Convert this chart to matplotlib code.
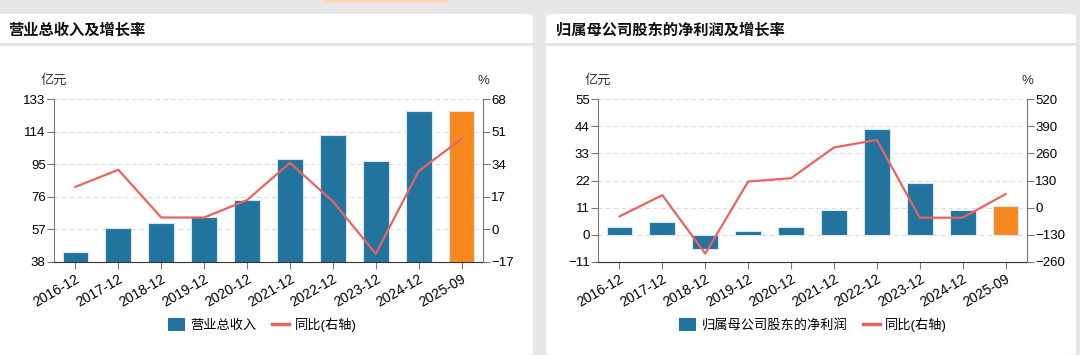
import numpy as np
import matplotlib.pyplot as plt
from matplotlib.patches import FancyBboxPatch, Rectangle
from matplotlib.lines import Line2D

plt.rcParams['font.family'] = ['Liberation Sans', 'Noto Sans CJK SC', 'DejaVu Sans']

# 数据
periodos = ['2016-12', '2017-12', '2018-12', '2019-12', '2020-12',
            '2021-12', '2022-12', '2023-12', '2024-12', '2025-09']
ingresos = [43.8, 57.6, 60.9, 64.4, 74.1, 98.3, 111.9, 97.1, 126.2, 126.2]
crec_ingresos = [22.2, 31.1, 6.2, 6.2, 15.3, 34.7, 14.6, -12.7, 30.4, 47.2]
beneficio = [3.2, 5.0, -5.8, 1.35, 3.1, 10.2, 42.7, 21.0, 10.2, 11.7]
crec_beneficio = [-42, 60, -220, 125, 141, 288, 324, -48, -48, 65]

ticks_ing = [38, 57, 76, 95, 114, 133]
ticks_ing_pct = [-17, 0, 17, 34, 51, 68]
ticks_ben = [-11, 0, 11, 22, 33, 44, 55]
ticks_ben_pct = [-260, -130, 0, 130, 260, 390, 520]

AZUL = '#22739e'
NARANJA = '#f5891f'
ROJO = '#e8645f'
GRIS = '#777777'

W, H = 1080, 355
fig = plt.figure(figsize=(W / 100, H / 100), dpi=100)
fig.patch.set_facecolor('#e7e7e9')


def px(x, y, w, h):
    # pixeles (origen arriba a la izquierda) -> fraccion de figura
    return [x / W, 1 - (y + h) / H, w / W, h / H]


def panel(x0, x1, titulo, x_tit):
    fig.patches.append(FancyBboxPatch((x0 / W, 0), (x1 - x0) / W, (H - 14) / H,
                                      boxstyle='round,pad=0,rounding_size=0.008',
                                      transform=fig.transFigure, facecolor='white',
                                      edgecolor='none', zorder=-5))
    fig.lines.append(Line2D([x0 / W, x1 / W], [1 - 44 / H] * 2, transform=fig.transFigure,
                            color='#e2e2e2', lw=2, zorder=-4))
    fig.text(x_tit / W, 1 - 30 / H, titulo, fontsize=11, fontweight='bold',
             va='center', ha='left', color='#111111')


def grafico(x_izq, valores, crec, ticks_l, ticks_r, etiqueta, titulo, px0, px1, x_tit, leg_x):
    panel(px0, px1, titulo, x_tit)
    ax = fig.add_axes(px(x_izq, 99, 429, 163))
    ax.set_facecolor('none')
    x = np.arange(len(periodos))
    colores = [AZUL] * (len(periodos) - 1) + [NARANJA]
    ax.bar(x, valores, width=0.6, color=colores, edgecolor='#d5e6f0', linewidth=0.8,
           zorder=3, label=etiqueta)
    ax.set_xlim(-0.5, len(periodos) - 0.5)
    ax.set_ylim(ticks_l[0], ticks_l[-1])
    ax.set_yticks(ticks_l)
    ax.grid(axis='y', color='#dcdcdc', linestyle=(0, (4, 3)), linewidth=0.8, zorder=0)
    ax.set_xticks(x)
    ax.set_xticklabels(periodos, rotation=30, ha='right', rotation_mode='anchor',
                       fontsize=10)
    ax.tick_params(axis='x', length=5, color=GRIS, pad=2)
    ax.tick_params(axis='y', length=5, color=GRIS, labelsize=9.5, pad=1)
    for s in ['top', 'right']:
        ax.spines[s].set_visible(False)
    ax.spines['left'].set_color(GRIS)
    ax.spines['bottom'].set_color('#333333')

    ax2 = ax.twinx()
    ax2.plot(x, crec, color=ROJO, lw=1.6, zorder=4, label='同比(右轴)')
    ax2.set_ylim(ticks_r[0], ticks_r[-1])
    ax2.set_yticks(ticks_r)
    ax2.tick_params(axis='y', length=5, color=GRIS, labelsize=9.5, pad=1)
    for s in ['top', 'left', 'bottom']:
        ax2.spines[s].set_visible(False)
    ax2.spines['right'].set_color(GRIS)

    fig.text(x_izq / W, 1 - 81 / H, '亿元', fontsize=9.5, ha='center', va='center',
             color='#333333')
    fig.text((x_izq + 429) / W, 1 - 81 / H, '%', fontsize=9.5, ha='center',
             va='center', color='#333333')

    handles = [Rectangle((0, 0), 1, 1, facecolor=AZUL),
               Line2D([0], [0], color=ROJO, lw=2.5)]
    fig.legend(handles, [etiqueta, '同比(右轴)'], loc='center',
               bbox_to_anchor=(leg_x / W, 1 - 325 / H), ncol=2, frameon=False,
               fontsize=9.5, handlelength=1.3, handleheight=1.1, columnspacing=1.2,
               handletextpad=0.4)


grafico(54, ingresos, crec_ingresos, ticks_ing, ticks_ing_pct, '营业总收入',
        '营业总收入及增长率', -10, 533, 8, 262)
grafico(598, beneficio, crec_beneficio, ticks_ben, ticks_ben_pct, '归属母公司股东的净利润',
        '归属母公司股东的净利润及增长率', 546, 1076, 556, 813)

# franja superior
fig.patches.append(Rectangle((323 / W, 1 - 3 / H), 125 / W, 3 / H, transform=fig.transFigure,
                             facecolor='#fdd9b5', edgecolor='none', zorder=-5))

fig.savefig('out.png', dpi=100)
